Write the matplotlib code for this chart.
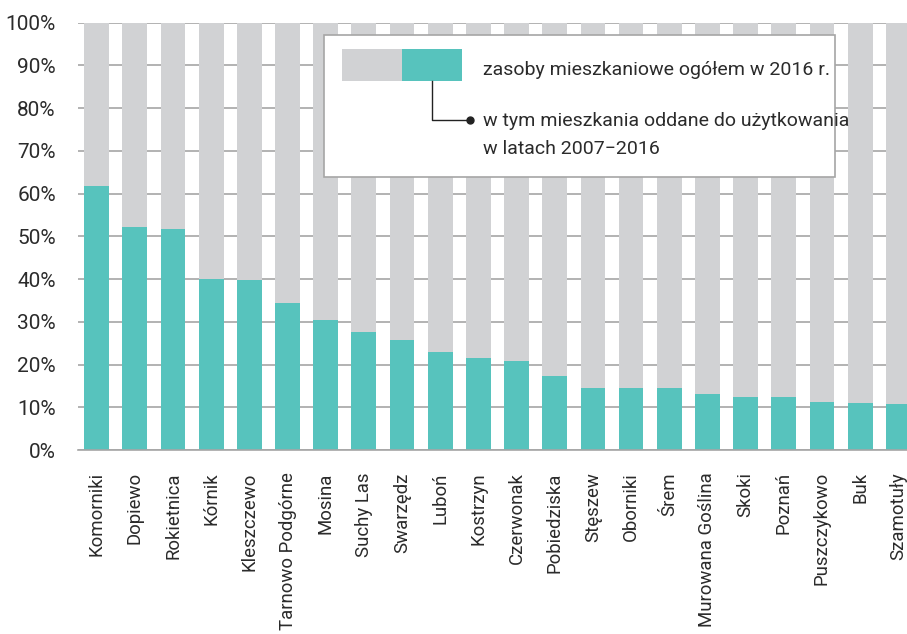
import matplotlib.pyplot as plt
import numpy as np
from matplotlib.ticker import FuncFormatter

plt.rcParams['font.family'] = ['Roboto', 'DejaVu Sans']

gminy = ['Komorniki', 'Dopiewo', 'Rokietnica', 'Kórnik', 'Kleszczewo',
         'Tarnowo Podgórne', 'Mosina', 'Suchy Las', 'Swarzędz', 'Luboń',
         'Kostrzyn', 'Czerwonak', 'Pobiedziska', 'Stęszew', 'Oborniki',
         'Śrem', 'Murowana Goślina', 'Skoki', 'Poznań', 'Puszczykowo',
         'Buk', 'Szamotuły']

# udzial mieszkan oddanych w latach 2007-2016 (%)
nowe = [61.9, 52.2, 51.8, 40.1, 39.7, 34.4, 30.4, 27.6, 25.8, 22.9,
        21.5, 20.8, 17.3, 14.5, 14.5, 14.5, 13.1, 12.5, 12.4, 11.3,
        11.0, 10.8]
ogolem = [100] * len(gminy)

teal = '#57c3bd'
grey = '#d1d2d4'
txt = '#2b2b2b'

fig = plt.figure(figsize=(9.07, 6.34), dpi=100)
ax = fig.add_axes([78/907, 1-450/634, 1-78/907 + 0.003, (450-22.7)/634])

x = np.arange(len(gminy))
ax.bar(x, ogolem, width=0.65, color=grey, zorder=2)
ax.bar(x, nowe, width=0.65, color=teal, zorder=3)

ax.set_ylim(0, 100)
ax.set_xlim(-0.49, 21.3)
ax.set_yticks(np.arange(0, 101, 10))
ax.yaxis.set_major_formatter(FuncFormatter(lambda v, p: '%d%%' % v))
ax.grid(axis='y', color='#a6a6a6', linewidth=1.2, zorder=0)
for s in ['top', 'right', 'left']:
    ax.spines[s].set_visible(False)
ax.spines['bottom'].set_color('#a6a6a6')
ax.spines['bottom'].set_linewidth(1.2)
ax.spines['bottom'].set_zorder(4)
ax.tick_params(axis='y', length=0, pad=16, labelsize=15, labelcolor=txt)
ax.tick_params(axis='x', length=0, pad=16, labelsize=13.4, labelcolor=txt)
ax.set_xticks(x)
ax.set_xticklabels(gminy, rotation=90, va='top', ha='center')

# legenda
def fx(px):
    return px / 907
def fy(py):
    return 1 - py / 634

leg = plt.Rectangle((fx(324), fy(177)), fx(835) - fx(324), fy(35) - fy(177),
                    transform=fig.transFigure, facecolor='white',
                    edgecolor='#a6a6a6', linewidth=1.2, zorder=5)
fig.add_artist(leg)
fig.add_artist(plt.Rectangle((fx(342), fy(81)), fx(60), fy(49) - fy(81),
                             transform=fig.transFigure, facecolor=grey,
                             edgecolor='none', zorder=6))
fig.add_artist(plt.Rectangle((fx(402), fy(81)), fx(60), fy(49) - fy(81),
                             transform=fig.transFigure, facecolor=teal,
                             edgecolor='none', zorder=6))
fig.add_artist(plt.Line2D([fx(432), fx(432), fx(470)], [fy(81), fy(120), fy(120)],
                          transform=fig.transFigure, color='#222222',
                          linewidth=1.0, zorder=6))
fig.add_artist(plt.Line2D([fx(470)], [fy(120)], transform=fig.transFigure,
                          marker='o', markersize=5, color='#222222', zorder=6))
fig.text(fx(483), fy(70), 'zasoby mieszkaniowe ogółem w 2016 r.', fontsize=14,
         color=txt, va='center', ha='left', zorder=7)
fig.text(fx(483), fy(121), 'w tym mieszkania oddane do użytkowania', fontsize=14,
         color=txt, va='center', ha='left', zorder=7)
fig.text(fx(483), fy(149), 'w latach 2007\u22122016', fontsize=14,
         color=txt, va='center', ha='left', zorder=7)

plt.savefig('out.png', dpi=100)
